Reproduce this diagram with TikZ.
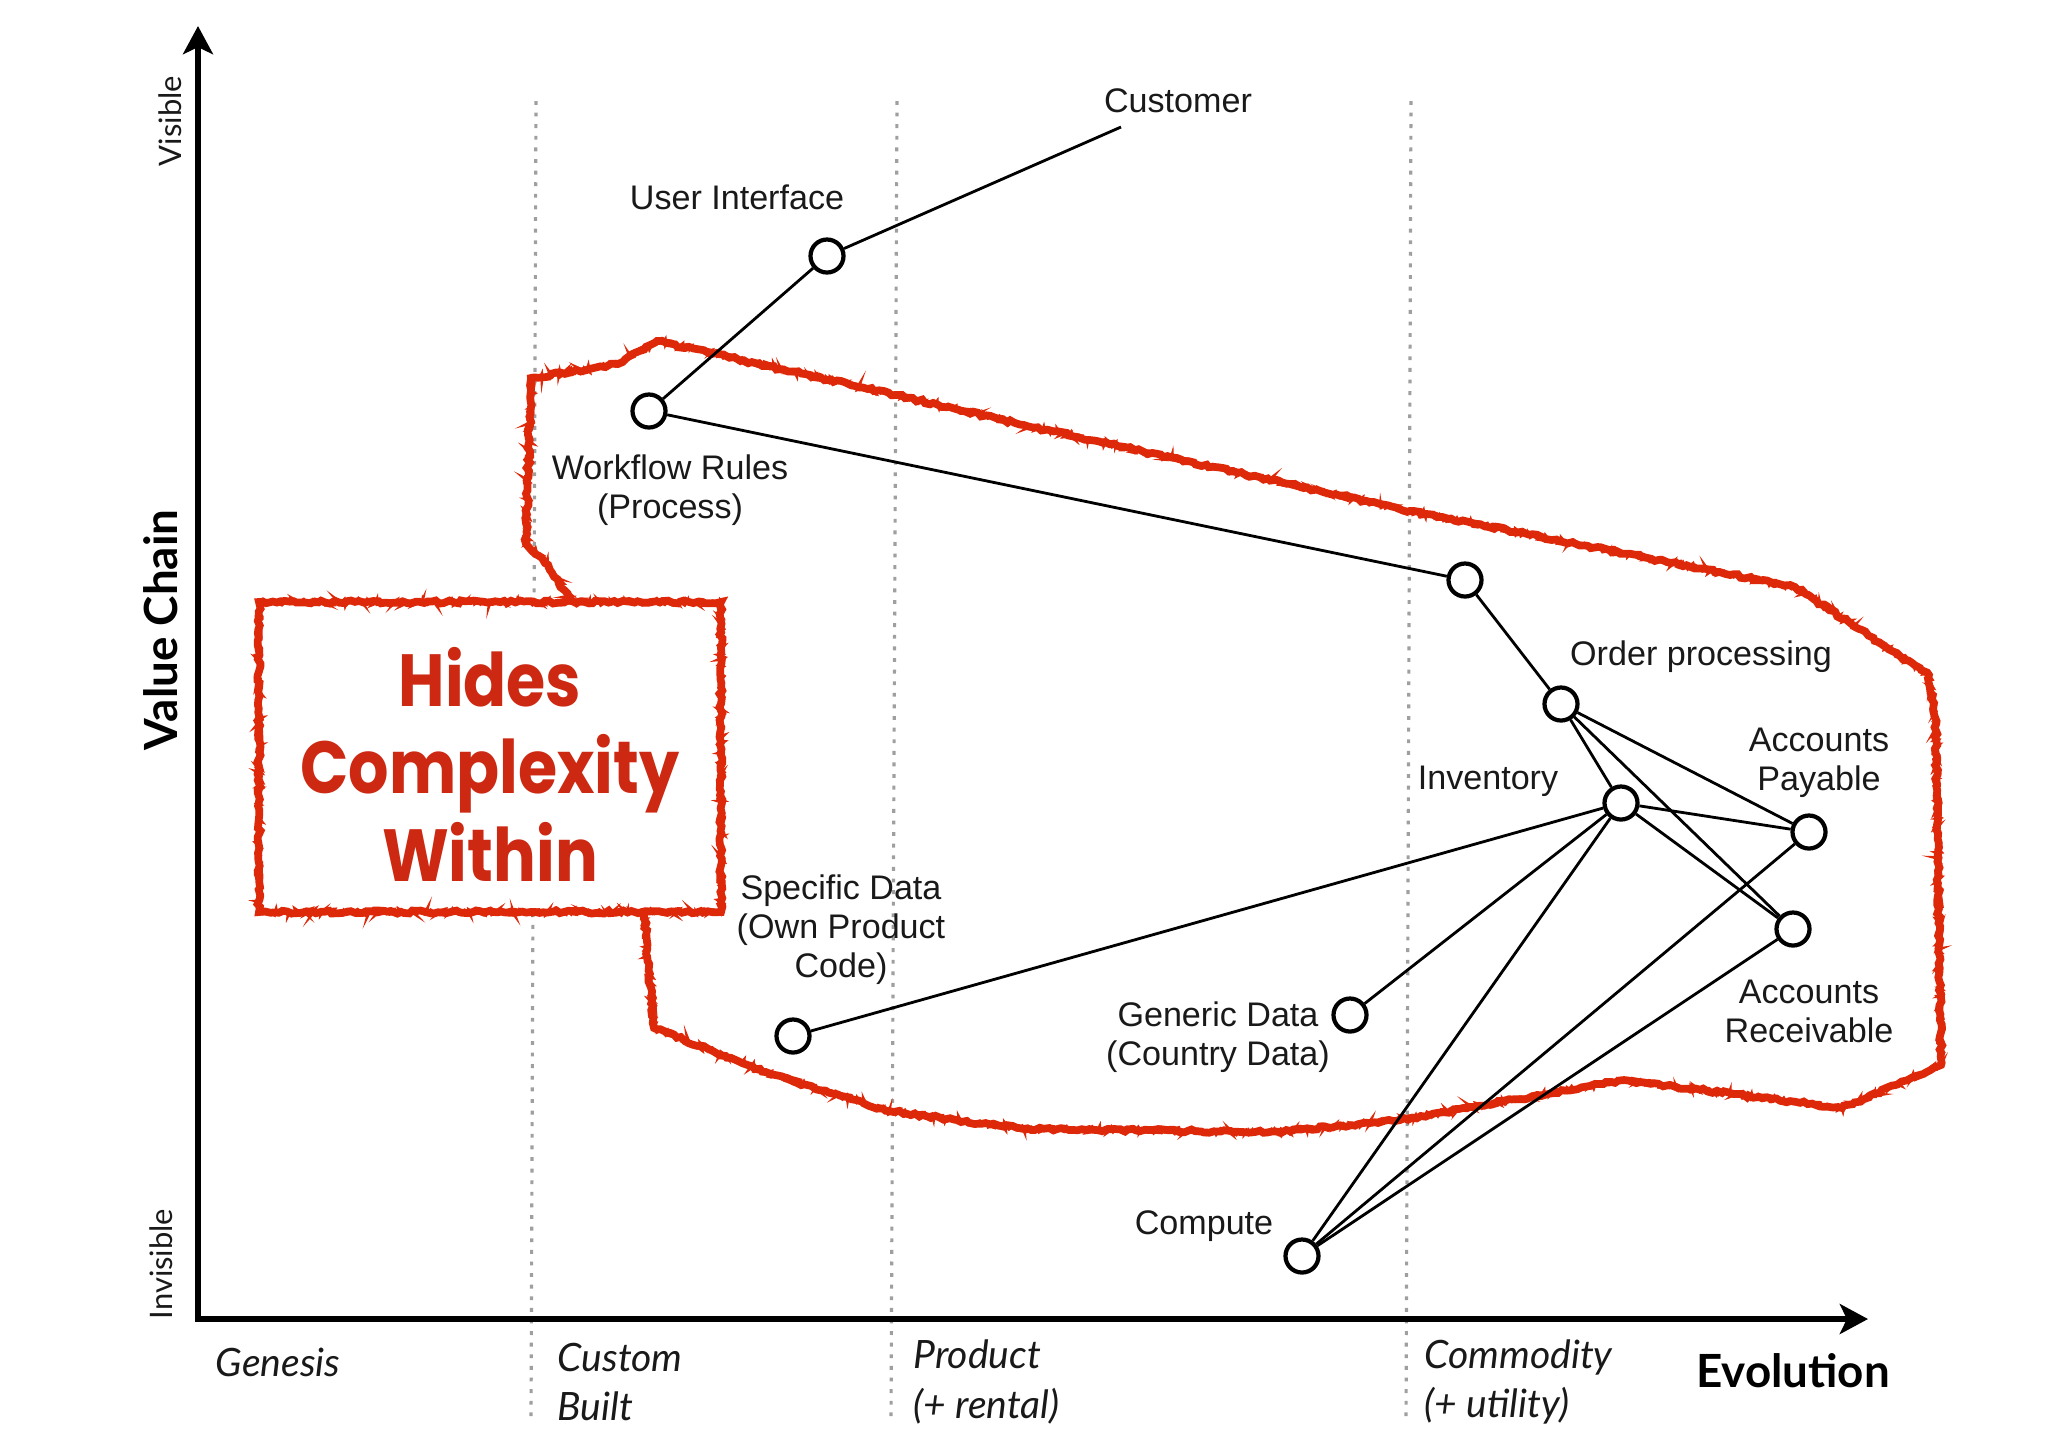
\documentclass[tikz,border=0pt]{standalone}
\usepackage{fontspec}
\setmainfont{Liberation Sans}
\newfontfamily\gillfont{Lato}
\newfontfamily\comicfont[FakeStretch=0.86]{Poppins}
\usetikzlibrary{arrows.meta,decorations.pathmorphing}
\definecolor{redline}{RGB}{222,40,10}
\definecolor{redtext}{RGB}{204,40,18}
\definecolor{ink}{RGB}{25,25,25}
\begin{document}
\begin{tikzpicture}[x=0.01cm,y=-0.01cm,
  comp/.style={circle,draw=black,line width=1.2pt,minimum size=0.33cm,inner sep=0pt,fill=white},
  link/.style={line width=0.8pt,draw=black},
  lbl/.style={font=\fontsize{9.7}{11.1}\selectfont,align=center,inner sep=0pt,text=ink},
  stage/.style={font=\gillfont\itshape\fontsize{11.1}{14}\selectfont,align=left,anchor=west,inner sep=0pt,text=ink},
  axistitle/.style={font=\gillfont\bfseries\fontsize{13}{15}\selectfont,inner sep=0pt},
  axisend/.style={font=\gillfont\fontsize{8.8}{10}\selectfont,inner sep=0pt,text=ink},
  axisline/.style={line width=1.7pt,{Stealth[length=8pt,width=8.5pt,inset=2pt]}-{Stealth[length=8pt,width=8.5pt,inset=2pt]},line join=miter},
  guide/.style={draw=gray!75,line width=0.9pt,dash pattern=on 1.1pt off 2.2pt},
  roughA/.style={draw=redline,line width=2.2pt,decorate,decoration={random steps,segment length=1.2pt,amplitude=0.45pt}},
  roughB/.style={draw=redline,line width=0.9pt,decorate,decoration={random steps,segment length=0.6pt,amplitude=0.9pt}},
  hidetext/.style={font=\comicfont\bfseries\fontsize{21}{24.9}\selectfont,text=redtext,align=center,inner sep=0pt}
]
\useasboundingbox (0,0) rectangle (2048,1447);
\pgfmathsetseed{7}

% evolution stage guides
\draw[guide] (536,101) -- (531,1422);
\draw[guide] (897,101) -- (891,1422);
\draw[guide] (1411,101) -- (1406,1422);

% red boundary
\foreach \s in {roughA,roughB}{
\draw[\s] (572,601) -- (542,558) -- (526,544) -- (531,378) -- (618,364) -- (657,341)
  -- (896,395) -- (1024,425) -- (1410,511) -- (1795,587) -- (1929,675) -- (1936,724)
  -- (1941,1065) -- (1842,1108) -- (1624,1080) -- (1400,1120) -- (1280,1132)
  -- (1024,1129) -- (889,1111) -- (771,1074) -- (654,1028) -- (644,913);
}

% box
\fill[white] (259,602) rectangle (721,912);
\foreach \s in {roughA,roughB}{
\draw[\s] (259,602) -- (721,602) -- (721,912) -- (259,912) -- cycle;
}
\node[hidetext] (hides) at (490,764) {Hides\\Complexity\\Within};

% axes
\coordinate (O) at (198,1319);
\coordinate (Ytop) at (198,26);
\coordinate (Xend) at (1868,1319);
\draw[axisline] (Ytop) -- (O) -- (Xend);

\node[axisend,rotate=90] (visible) at (170,121) {Visible};
\node[axistitle,rotate=90] (vchain) at (161,630) {Value Chain};
\node[axisend,rotate=90] (invisible) at (161,1264) {Invisible};

\node[stage,anchor=center] (genesis) at (278,1362) {Genesis};
\node[stage] (custom) at (557,1382) {Custom\\Built};
\node[stage] (product) at (913,1382) {Product\\(+ rental)};
\node[stage] (commodity) at (1424,1382) {Commodity\\(+ utility)};
\node[axistitle] (evolution) at (1793,1371) {Evolution};

% components
\node[comp] (ui) at (827,256) {};
\node[comp] (wf) at (649,411) {};
\node[comp] (n1) at (1465,580) {};
\node[comp] (op) at (1561,704) {};
\node[comp] (inv) at (1621,803) {};
\node[comp] (ap) at (1809,832) {};
\node[comp] (ar) at (1793,929) {};
\node[comp] (gen) at (1350,1015) {};
\node[comp] (spec) at (793,1036) {};
\node[comp] (cmp) at (1302,1256) {};
\coordinate (cust) at (1121,127);

% links
\draw[link] (ui) -- (cust);
\draw[link] (ui) -- (wf);
\draw[link] (wf) -- (n1);
\draw[link] (n1) -- (op);
\draw[link] (op) -- (inv);
\draw[link] (op) -- (ap);
\draw[link] (op) -- (ar);
\draw[link] (inv) -- (ap);
\draw[link] (inv) -- (ar);
\draw[link] (inv) -- (spec);
\draw[link] (inv) -- (gen);
\draw[link] (inv) -- (cmp);
\draw[link] (cmp) -- (ap);
\draw[link] (cmp) -- (ar);

% labels
\node[lbl] (lcust) at (1178,101) {Customer};
\node[lbl] (lui) at (737,197) {User Interface};
\node[lbl] (lwf) at (670,490) {Workflow Rules\\(Process)};
\node[lbl] (lop) at (1701,657) {Order processing};
\node[lbl] (lap) at (1819,763) {Accounts\\Payable};
\node[lbl] (linv) at (1488,781) {Inventory};
\node[lbl] (lspec) at (841,930) {Specific Data\\(Own Product\\Code)};
\node[lbl] (lgen) at (1218,1037) {Generic Data\\(Country Data)};
\node[lbl] (lar) at (1809,1011) {Accounts\\Receivable};
\node[lbl] (lcmp) at (1204,1226) {Compute};
\end{tikzpicture}
\end{document}
